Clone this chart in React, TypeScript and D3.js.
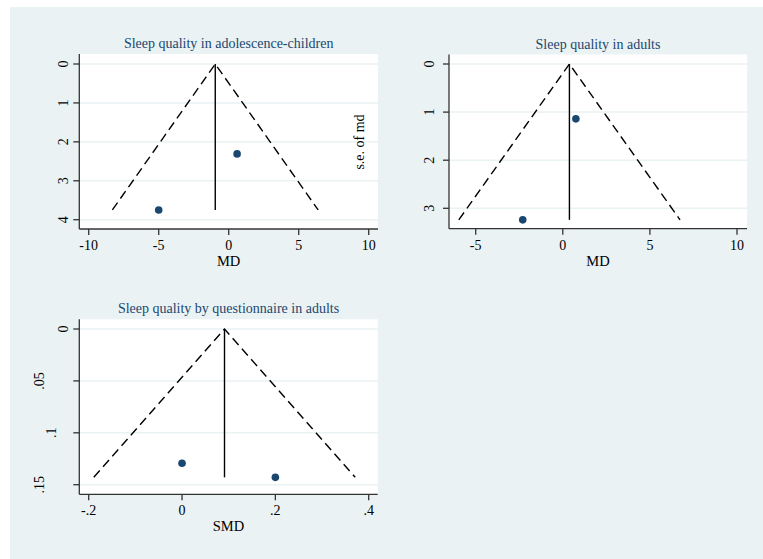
import React from "react";
import * as d3 from "d3";

// ---- Data ----
const p1Effect = [0.6, -5.0];
const p1Se = [2.31, 3.75];
const p1Pooled = -0.96;
const p1XTicks = [-10, -5, 0, 5, 10];
const p1YTicks = [0, 1, 2, 3, 4];

const p2Effect = [0.75, -2.3];
const p2Se = [1.14, 3.24];
const p2Pooled = 0.38;
const p2XTicks = [-5, 0, 5, 10];
const p2YTicks = [0, 1, 2, 3];

const p3Effect = [0.0, 0.2];
const p3Se = [0.1294, 0.1429];
const p3Pooled = 0.091;
const p3XTicks = [-0.2, 0, 0.2, 0.4];
const p3YTicks = [0, 0.05, 0.1, 0.15];

const fmtStata = (v: number) => {
  if (v === 0) return "0";
  let s = String(+v.toFixed(4));
  s = s.replace(/^(-?)0\./, "$1.");
  return s;
};

const BG = "#eaf2f3";
const NAVY = "#1a476f";
const FONT = "Liberation Serif";

type PanelProps = {
  title: string;
  xTitle: string;
  effect: number[];
  se: number[];
  pooled: number;
  xTicks: number[];
  yTicks: number[];
  box: { x0: number; x1: number; y0: number; y1: number };
  xMap: [number, number, number, number];
  yMap: [number, number, number, number];
  yLabelGap: number;
};

function Panel(p: PanelProps) {
  const x = d3.scaleLinear().domain([p.xMap[0], p.xMap[1]]).range([p.xMap[2], p.xMap[3]]);
  const y = d3.scaleLinear().domain([p.yMap[0], p.yMap[1]]).range([p.yMap[2], p.yMap[3]]);
  const { x0, x1, y0, y1 } = p.box;
  const maxSe = d3.max(p.se) as number;
  const funnel = d3.line<[number, number]>()
    .x((d) => x(d[0]))
    .y((d) => y(d[1]));
  const funnelPts: [number, number][] = [
    [p.pooled - 1.96 * maxSe, maxSe],
    [p.pooled, 0],
    [p.pooled + 1.96 * maxSe, maxSe],
  ];
  const cx = (x0 + x1) / 2;
  return (
    <g>
      <rect x={x0} y={y0} width={x1 - x0} height={y1 - y0} fill="#ffffff" />
      {p.yTicks.map((t) => (
        <line key={"g" + t} x1={x0} x2={x1} y1={y(t)} y2={y(t)} stroke={BG} strokeWidth={1.5} />
      ))}
      <path d={funnel(funnelPts) || ""} fill="none" stroke="#000" strokeWidth={1.4} strokeDasharray="9,5" />
      <line x1={x(p.pooled)} x2={x(p.pooled)} y1={y(0)} y2={y(maxSe)} stroke="#000" strokeWidth={1.4} />
      {p.effect.map((e, i) => (
        <circle key={"c" + i} cx={x(e)} cy={y(p.se[i])} r={3.8} fill={NAVY} />
      ))}
      <line x1={x0} x2={x0} y1={y0} y2={y1} stroke="#333" strokeWidth={1.3} />
      <line x1={x0} x2={x1} y1={y1} y2={y1} stroke="#333" strokeWidth={1.3} />
      {p.yTicks.map((t) => {
        const label = fmtStata(t);
        const lx = x0 - p.yLabelGap - (label.length - 1) * 12;
        return (
          <g key={"yt" + t}>
            <line x1={x0 - 6} x2={x0} y1={y(t)} y2={y(t)} stroke="#333" strokeWidth={1.3} />
            <text
              transform={`translate(${lx},${y(t)}) rotate(-90)`}
              textAnchor="middle"
              dy="0.35em"
              fontFamily={FONT}
              fontSize={14}
              fill="#000"
            >
              {label}
            </text>
          </g>
        );
      })}
      {p.xTicks.map((t) => (
        <g key={"xt" + t}>
          <line x1={x(t)} x2={x(t)} y1={y1} y2={y1 + 6} stroke="#333" strokeWidth={1.3} />
          <text x={x(t)} y={y1 + 21} textAnchor="middle" fontFamily={FONT} fontSize={14} fill="#000">
            {fmtStata(t)}
          </text>
        </g>
      ))}
      <text x={cx} y={y1 + 37} textAnchor="middle" fontFamily={FONT} fontSize={14.5} fill="#000">
        {p.xTitle}
      </text>
      <text x={cx} y={y0 - 6} textAnchor="middle" fontFamily={FONT} fontSize={14} fill={NAVY}>
        {p.title}
      </text>
    </g>
  );
}

export default function App() {
  return (
    <svg
      width={763}
      height={559}
      style={{ position: "absolute", left: 0, top: 0, display: "block" }}
    >
      <rect x={0} y={0} width={763} height={559} fill="#ffffff" />
      <rect x={10} y={7} width={753} height={552} fill={BG} />
      <Panel
        title="Sleep quality in adolescence-children"
        xTitle="MD"
        effect={p1Effect}
        se={p1Se}
        pooled={p1Pooled}
        xTicks={p1XTicks}
        yTicks={p1YTicks}
        box={{ x0: 79.3, x1: 378, y0: 54, y1: 229 }}
        xMap={[-10, 10, 88.7, 368.7]}
        yMap={[0, 4, 64, 219.7]}
        yLabelGap={16}
      />
      <Panel
        title="Sleep quality in adults"
        xTitle="MD"
        effect={p2Effect}
        se={p2Se}
        pooled={p2Pooled}
        xTicks={p2XTicks}
        yTicks={p2YTicks}
        box={{ x0: 449, x1: 747, y0: 54.5, y1: 228.7 }}
        xMap={[-5, 10, 475.7, 737]}
        yMap={[0, 3, 64, 208.3]}
        yLabelGap={20}
      />
      <Panel
        title="Sleep quality by questionnaire in adults"
        xTitle="SMD"
        effect={p3Effect}
        se={p3Se}
        pooled={p3Pooled}
        xTicks={p3XTicks}
        yTicks={p3YTicks}
        box={{ x0: 79.3, x1: 377.7, y0: 319.3, y1: 494.3 }}
        xMap={[-0.2, 0.4, 88.7, 368.7]}
        yMap={[0, 0.15, 329, 484.7]}
        yLabelGap={16}
      />
      <text
        transform="translate(359,142) rotate(-90)"
        textAnchor="middle"
        dy="0.35em"
        fontFamily={FONT}
        fontSize={14}
        fill="#000"
      >
        s.e. of md
      </text>
    </svg>
  );
}
